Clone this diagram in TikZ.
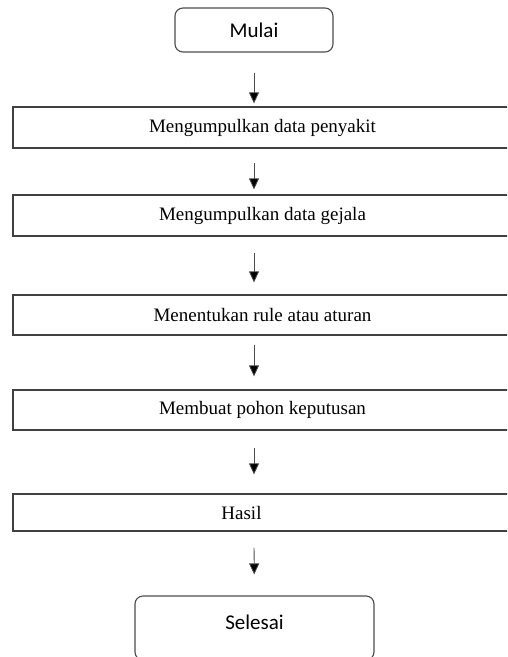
\documentclass[tikz,border=0pt]{standalone}
\usepackage{fontspec}
\setmainfont{Liberation Serif}
\newfontfamily\calibrifont{Carlito}
\usetikzlibrary{positioning,arrows.meta}

\begin{document}
\begin{tikzpicture}[x=1pt,y=1pt,on grid,
    terminal/.style={draw=black!70,line width=1.1pt,rounded corners=8pt,font=\calibrifont\fontsize{21}{24}\selectfont},
    proses/.style={draw=black!75,line width=1.2pt,minimum width=499pt,inner sep=0pt,font=\fontsize{19}{22}\selectfont},
    panah/.style={draw=black!70,line width=0.8pt,-{Triangle[width=10pt,length=11pt,fill=black]}}]

   \useasboundingbox (0,0) rectangle (507,-657);
   \clip (0,0) rectangle (507,-657);

   \node[terminal,minimum width=158pt,minimum height=44pt] (mulai) at (254,-30) {Mulai};
   \node[proses,minimum height=41pt] (p_1) [below right=97.5pt and 8.5pt of mulai] {Mengumpulkan data penyakit};
   \node[proses,minimum height=41pt] (p_2) [below=88pt of p_1] {Mengumpulkan data gejala};
   \node[proses,minimum height=40pt] (p_3) [below=99.5pt of p_2] {Menentukan rule atau aturan};
   \node[proses,minimum height=40pt] (p_4) [below=95pt of p_3] {Membuat pohon keputusan};
   \node[proses,minimum height=37pt,label={[font=\fontsize{19}{22}\selectfont,xshift=-21pt]center:Hasil}] (p_5) [below=102.5pt of p_4] {};
   \node[terminal,minimum width=239pt,minimum height=64pt,label={[font=\calibrifont\fontsize{21}{24}\selectfont,yshift=6pt]center:Selesai}] (selesai) [below left=115.5pt and 8pt of p_5] {};

   \draw[panah,shorten <=20pt,shorten >=3pt] (mulai.south -| mulai) -- (p_1.north -| mulai);
   \draw[panah,shorten <=14pt,shorten >=5pt] (p_1.south -| mulai) -- (p_2.north -| mulai);
   \draw[panah,shorten <=16pt,shorten >=12pt] (p_2.south -| mulai) -- (p_3.north -| mulai);
   \draw[panah,shorten <=9pt,shorten >=13pt] (p_3.south -| mulai) -- (p_4.north -| mulai);
   \draw[panah,shorten <=17pt,shorten >=19pt] (p_4.south -| mulai) -- (p_5.north -| mulai);
   \draw[panah,shorten <=16pt,shorten >=21pt] (p_5.south -| mulai) -- (selesai);
\end{tikzpicture}
\end{document}
